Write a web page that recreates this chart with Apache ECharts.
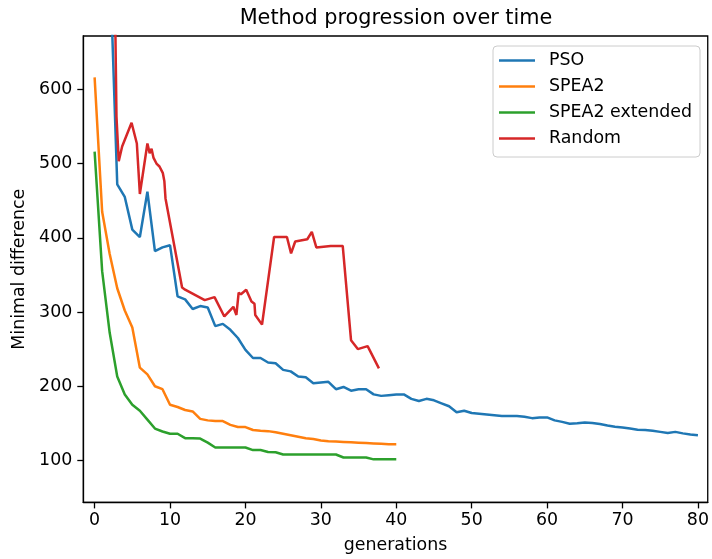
<!DOCTYPE html>
<html>
<head>
<meta charset="utf-8">
<script src="https://cdn.jsdelivr.net/npm/echarts@6/dist/echarts.min.js"></script>
<style>html,body{margin:0;padding:0;background:#fff}#c{width:712px;height:559px}</style>
</head>
<body>
<div id="c"></div>
<script>
const title = "Method progression over time";
const seriesNames = ["PSO", "SPEA2", "SPEA2 extended", "Random"];
const xTicks = [0, 10, 20, 30, 40, 50, 60, 70, 80];
const yTicks = [100, 200, 300, 400, 500, 600];

// PSO: generations 2..80
const psoStart = 2;
const psoValues = [780, 472, 455, 411, 401, 462, 382, 387, 390, 321,
  317, 304, 308, 306, 281, 284, 276, 265, 249, 238,
  238, 232, 231, 222, 220, 213, 212, 204, 205, 206,
  196, 199, 194, 196, 196, 189, 187, 188, 189, 189,
  183, 180, 183, 181, 177, 173, 165, 167, 164, 163,
  162, 161, 160, 160, 160, 159, 157, 158, 158, 154,
  152, 149.5, 150, 151, 150.5, 149, 147, 145.5, 144.5, 143,
  141.5, 141, 140, 138.5, 137, 138.5, 136.5, 135, 134];

// SPEA2: generations 0..40
const spea2Values = [616, 435, 378, 332, 302, 279, 225, 216, 200, 196,
  175, 172, 168, 166, 156, 154, 153, 153, 148, 145,
  145, 141, 140, 139.5, 138, 136, 134, 132, 130, 129,
  127, 126, 125.5, 125, 124.5, 124, 123.5, 123, 122.5, 122, 122];

// SPEA2 extended: generations 0..40
const spea2ExtValues = [516, 355, 272, 213, 189, 175, 167, 155, 143, 139,
  136, 136, 130, 130, 129.5, 124, 117.5, 117.5, 117.5, 117.5,
  117.5, 114, 114, 111.5, 111, 108, 108, 108, 108, 108,
  108, 108, 108, 104, 104, 104, 104, 101.5, 101.5, 101.5, 101.5];

// Random: irregular generation positions
const randomGenerations = [2.5, 2.9, 3.2, 3.65, 4.9, 5.6, 6.0, 7.0, 7.3, 7.55,
  7.8, 8.2, 8.6, 9.05, 9.25, 9.4, 11.6, 12.0, 14.6, 15.9,
  17.2, 18.4, 18.8, 19.1, 19.4, 20.1, 20.8, 21.2, 21.3, 22.2,
  23.8, 25.5, 26.05, 26.6, 28.2, 28.8, 29.4, 31.3, 32.9, 34.0,
  34.9, 36.2, 37.7];
const randomValues = [880, 563, 503, 523, 555, 527, 459, 527, 514, 520,
  508, 500, 496, 487, 476, 453, 333, 330, 316, 320,
  294, 307, 296, 326, 324, 330, 314, 311, 296, 283,
  401, 401, 379, 395, 398, 408, 387, 389, 389, 262,
  250, 254, 224];

const colors = ["#1f77b4", "#ff7f0e", "#2ca02c", "#d62728"];
const font = "DejaVu Sans";
const fs = 17.4;

const seq = (arr, start) => arr.map((v, i) => [start + i, v]);
const zip = (xs, ys) => xs.map((x, i) => [x, ys[i]]);

const dataSets = [
  seq(psoValues, psoStart),
  seq(spea2Values, 0),
  seq(spea2ExtValues, 0),
  zip(randomGenerations, randomValues)
];

const chart = echarts.init(document.getElementById('c'), null, {renderer: 'canvas'});
chart.setOption({
  animation: false,
  backgroundColor: '#ffffff',
  color: colors,
  title: {
    text: title,
    left: 396,
    top: 8,
    textAlign: 'center',
    padding: 0,
    textStyle: {fontFamily: font, fontSize: 20.8, fontWeight: 'normal', color: '#000'}
  },
  grid: {
    left: 83.3, right: 3, top: 36, bottom: 56.3,
    show: true, borderColor: '#000', borderWidth: 1.3, backgroundColor: 'transparent'
  },
  legend: {
    orient: 'vertical',
    left: 493, top: 46,
    padding: [6, 8, 10, 6],
    itemWidth: 36, itemHeight: 14, itemGap: 9,
    borderColor: '#cccccc', borderWidth: 1, borderRadius: 4,
    backgroundColor: 'rgba(255,255,255,0.8)',
    textStyle: {fontFamily: font, fontSize: fs, color: '#000', padding: [0, 0, 0, 9]},
    data: seriesNames.map((n) => ({name: n, icon: 'path://M0,0 L36,0 L36,2.5 L0,2.5 Z'}))
  },
  xAxis: {
    type: 'value',
    min: -1.5, max: 81.3,
    name: 'generations',
    nameLocation: 'middle',
    nameGap: 34.6,
    nameTextStyle: {fontFamily: font, fontSize: fs, color: '#000'},
    axisLine: {show: true, onZero: false, lineStyle: {color: '#000', width: 1.3}},
    axisTick: {show: true, length: 6, lineStyle: {color: '#000', width: 1.3}, customValues: xTicks},
    axisLabel: {fontFamily: font, fontSize: fs, color: '#000', margin: 10, customValues: xTicks},
    splitLine: {show: false}
  },
  yAxis: {
    type: 'value',
    min: 43.5, max: 671.8,
    name: 'Minimal difference',
    nameLocation: 'middle',
    nameGap: 54.6,
    nameRotate: 90,
    nameTextStyle: {fontFamily: font, fontSize: fs, color: '#000'},
    axisLine: {show: true, onZero: false, lineStyle: {color: '#000', width: 1.3}},
    axisTick: {show: true, length: 6, lineStyle: {color: '#000', width: 1.3}, customValues: yTicks},
    axisLabel: {fontFamily: font, fontSize: fs, color: '#000', margin: 11, customValues: yTicks},
    splitLine: {show: false}
  },
  series: seriesNames.map((n, i) => ({
    name: n,
    type: 'line',
    data: dataSets[i],
    symbol: 'none',
    clip: true,
    lineStyle: {width: 2.5, color: colors[i]},
    itemStyle: {color: colors[i]}
  }))
});
</script>
</body>
</html>
